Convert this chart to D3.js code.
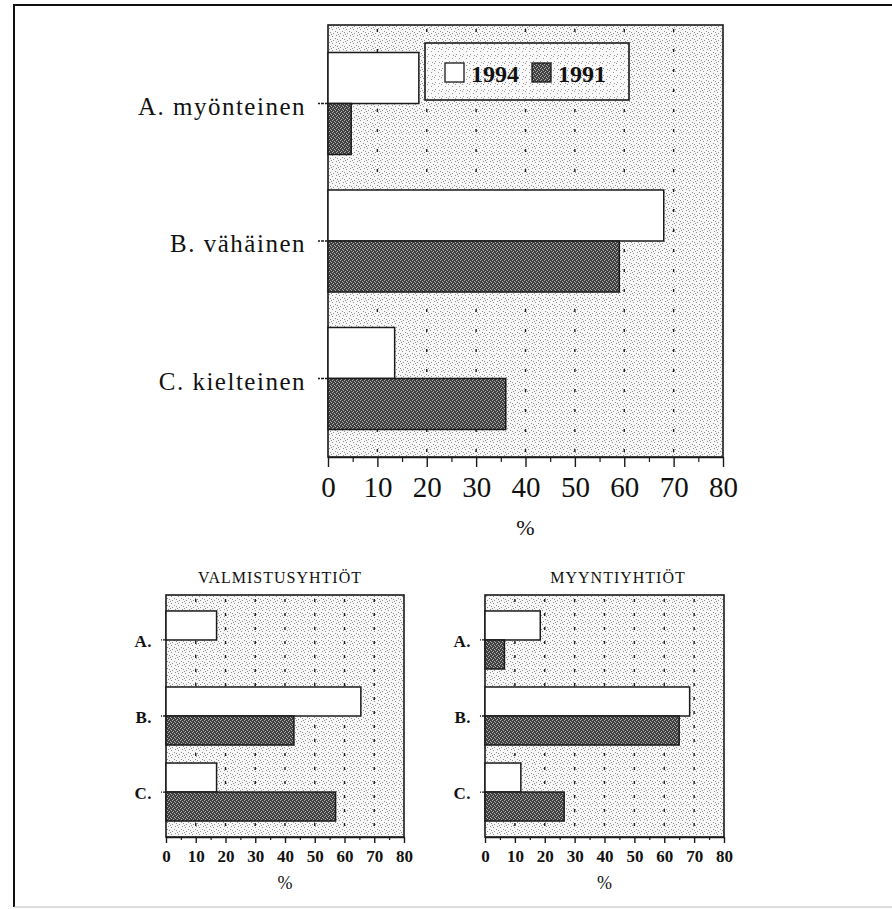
<!DOCTYPE html>
<html><head><meta charset="utf-8">
<script src="https://cdn.jsdelivr.net/npm/d3@7"></script>
<style>
html,body{margin:0;padding:0;background:#fff;}
svg{display:block;}
text{font-family:"Liberation Serif","DejaVu Serif",serif;fill:#111;}
</style></head>
<body>
<svg id="chart" width="892" height="909"></svg>
<script>
// ---- data ----
const series = ["1994", "1991"];
const mainCategories = ["A. myönteinen", "B. vähäinen", "C. kielteinen"];
const shortCategories = ["A.", "B.", "C."];
const main1994 = [18.4, 68, 13.5];
const main1991 = [4.7, 59, 36];
const valmistus1994 = [17, 65.5, 17];
const valmistus1991 = [0, 43, 57];
const myynti1994 = [18.5, 68.5, 12];
const myynti1991 = [6.5, 65, 26.5];
const majorTicks = [0, 10, 20, 30, 40, 50, 60, 70, 80];
const minorTicks = [5, 15, 25, 35, 45, 55, 65, 75];
const gridTicks = [10, 20, 30, 40, 50, 60, 70];
const panelTitles = ["VALMISTUSYHTIÖT", "MYYNTIYHTIÖT"];
const axisUnit = "%";

const svg = d3.select("#chart");
const defs = svg.append("defs");

// light stipple
const pl = defs.append("pattern").attr("id", "stipple").attr("width", 7).attr("height", 7)
  .attr("patternUnits", "userSpaceOnUse");
pl.append("rect").attr("width", 7).attr("height", 7).attr("fill", "#f7f7f7");
[[0,0],[3,1],[6,3],[1,4],[4,5],[2,6]].forEach(([x,y]) =>
  pl.append("rect").attr("x", x).attr("y", y).attr("width", 1).attr("height", 1).attr("fill", "#8f8f8f"));

// legend stipple (slightly lighter)
const pl2 = defs.append("pattern").attr("id", "stipple2").attr("width", 7).attr("height", 7)
  .attr("patternUnits", "userSpaceOnUse");
pl2.append("rect").attr("width", 7).attr("height", 7).attr("fill", "#f9f9f9");
[[0,0],[4,2],[1,5],[5,6]].forEach(([x,y]) =>
  pl2.append("rect").attr("x", x).attr("y", y).attr("width", 1).attr("height", 1).attr("fill", "#999"));

// dark texture
const pd = defs.append("pattern").attr("id", "dark").attr("width", 4).attr("height", 4)
  .attr("patternUnits", "userSpaceOnUse");
pd.append("rect").attr("width", 4).attr("height", 4).attr("fill", "#404040");
[[0,0],[2,1],[1,3],[3,2]].forEach(([x,y]) =>
  pd.append("rect").attr("x", x).attr("y", y).attr("width", 1).attr("height", 1).attr("fill", "#b0b0b0"));

// outer frame
svg.append("line").attr("x1", 14).attr("x2", 892).attr("y1", 5).attr("y2", 5).attr("stroke", "#111").attr("stroke-width", 2);
svg.append("line").attr("x1", 14).attr("x2", 14).attr("y1", 4).attr("y2", 907).attr("stroke", "#111").attr("stroke-width", 2);
svg.append("line").attr("x1", 14).attr("x2", 892).attr("y1", 907).attr("y2", 907).attr("stroke", "#bbb").attr("stroke-width", 1);

function drawPanel(o) {
  const g = svg.append("g");
  const x = d3.scaleLinear().domain([0, 80]).range([o.x0, o.x1]);
  const y = d3.scaleBand().domain(o.cats).range([o.y0, o.y1])
    .paddingInner(o.padIn).paddingOuter(o.padOut);
  const ys = d3.scaleBand().domain(series).range([0, y.bandwidth()]);
  const vals = { "1994": o.v1994, "1991": o.v1991 };

  g.append("rect").attr("x", o.x0).attr("y", o.y0).attr("width", o.x1 - o.x0).attr("height", o.y1 - o.y0)
    .attr("fill", "url(#stipple)").attr("stroke", "#1a1a1a").attr("stroke-width", 1.6);

  g.selectAll(".grid").data(gridTicks).join("line")
    .attr("x1", d => x(d)).attr("x2", d => x(d))
    .attr("y1", o.y0 + 4).attr("y2", o.y1)
    .attr("stroke", "#1a1a1a").attr("stroke-width", 1.4)
    .attr("stroke-dasharray", o.dash);

  series.forEach(s => {
    g.selectAll(".bar" + s).data(o.cats.map((c, i) => ({ c, v: vals[s][i] })).filter(d => d.v > 0))
      .join("rect")
      .attr("x", x(0)).attr("y", d => y(d.c) + ys(s))
      .attr("width", d => x(d.v) - x(0)).attr("height", ys.bandwidth())
      .attr("fill", s === "1994" ? "#fff" : "url(#dark)")
      .attr("stroke", "#1a1a1a").attr("stroke-width", 1.5);
  });

  // bottom axis
  const ax = g.append("g").attr("transform", `translate(0,${o.y1})`)
    .call(d3.axisBottom(x).tickValues(majorTicks).tickSize(o.tickMajor).tickSizeOuter(0)
      .tickPadding(o.tickPad).tickFormat(d3.format("d")));
  ax.select(".domain").attr("stroke", "#1a1a1a").attr("stroke-width", 1.6);
  ax.selectAll(".tick line").attr("stroke", "#1a1a1a").attr("stroke-width", 1.4);
  ax.selectAll(".tick text").attr("font-size", o.tickFont).attr("fill", "#111")
    .attr("font-weight", o.tickWeight)
    .style("font-family", '"Liberation Serif", serif');
  const axm = g.append("g").attr("transform", `translate(0,${o.y1})`)
    .call(d3.axisBottom(x).tickValues(minorTicks).tickSize(o.tickMinor).tickSizeOuter(0).tickFormat(""));
  axm.select(".domain").remove();
  axm.selectAll(".tick line").attr("stroke", "#1a1a1a").attr("stroke-width", 1.2);

  // left axis
  const ay = g.append("g").attr("transform", `translate(${o.x0},0)`)
    .call(d3.axisLeft(y).tickSize(o.catTick).tickPadding(o.catPad));
  ay.select(".domain").remove();
  ay.selectAll(".tick line").attr("stroke", "#1a1a1a").attr("stroke-width", 1.3).attr("stroke-dasharray", "3,1");
  ay.selectAll(".tick text").attr("font-size", o.catFont).attr("fill", "#111")
    .attr("font-weight", o.catWeight)
    .attr("dy", o.catDy).style("letter-spacing", o.catSpacing)
    .style("font-family", '"Liberation Serif", serif');

  g.append("text").attr("x", (o.x0 + o.x1) / 2).attr("y", o.unitY)
    .attr("text-anchor", "middle").attr("font-size", o.unitFont).text(axisUnit);

  if (o.title) {
    g.append("text").attr("x", o.titleX).attr("y", o.titleY).attr("text-anchor", "middle")
      .attr("font-size", 16).style("letter-spacing", "1px").text(o.title);
  }
  return { x, y };
}

// main chart
drawPanel({
  x0: 328, x1: 723, y0: 25, y1: 457, cats: mainCategories,
  v1994: main1994, v1991: main1991, padIn: 0.258, padOut: 0.2,
  dash: "3,17", tickMajor: 10, tickMinor: 5, tickPad: 9, tickFont: 29, tickWeight: "normal",
  catTick: 10, catPad: 12, catFont: 25, catWeight: "normal", catDy: "0.45em", catSpacing: "1.5px",
  unitY: 535, unitFont: 22
});

// legend (main chart)
const leg = svg.append("g");
leg.append("rect").attr("x", 425).attr("y", 43).attr("width", 204).attr("height", 57)
  .attr("fill", "url(#stipple2)").attr("stroke", "#1a1a1a").attr("stroke-width", 1.6);
const legX = [445, 532];
series.forEach((s, i) => {
  leg.append("rect").attr("x", legX[i]).attr("y", 63).attr("width", 19).attr("height", 19)
    .attr("fill", s === "1994" ? "#fff" : "url(#dark)").attr("stroke", "#1a1a1a").attr("stroke-width", 1.3);
  leg.append("text").attr("x", legX[i] + 26).attr("y", 82).attr("font-size", 24)
    .attr("font-weight", "bold").text(s);
});

// small panels
const small = {
  y0: 595, y1: 837, padIn: 0.237, padOut: 0.21, dash: "3,11",
  tickMajor: 6, tickMinor: 3, tickPad: 7, tickFont: 17, tickWeight: "bold",
  catTick: 5, catPad: 9, catFont: 17, catWeight: "bold", catDy: "0.4em", catSpacing: "0.5px",
  unitY: 889, unitFont: 18, titleY: 583
};
drawPanel(Object.assign({}, small, {
  x0: 166, x1: 404, cats: shortCategories, v1994: valmistus1994, v1991: valmistus1991,
  title: panelTitles[0], titleX: 280
}));
drawPanel(Object.assign({}, small, {
  x0: 485, x1: 724, cats: shortCategories, v1994: myynti1994, v1991: myynti1991,
  title: panelTitles[1], titleX: 618
}));
</script>
</body></html>
